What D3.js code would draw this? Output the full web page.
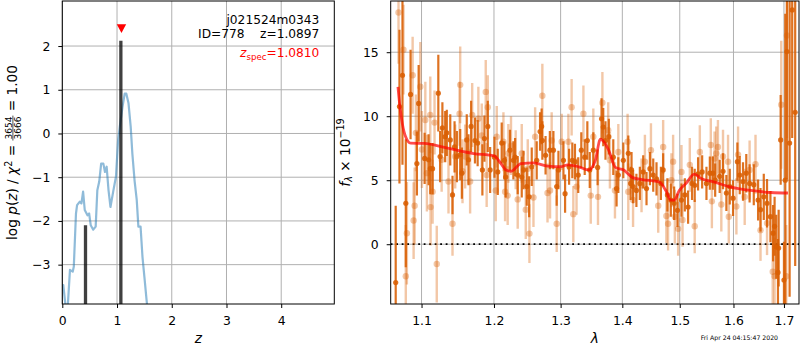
<!DOCTYPE html>
<html>
<head>
<meta charset="utf-8">
<script src="https://cdn.jsdelivr.net/npm/d3@7"></script>
<style>
body { margin: 0; background: #fff; }
svg { display: block; font-family: "DejaVu Sans", sans-serif; }
</style>
</head>
<body>
<svg id="chart" width="800" height="350"></svg>
<script>
// ---- p(z) curve (log p vs z)
const pzZ = [0.00, 0.018, 0.06, 0.10, 0.14, 0.19, 0.21, 0.25, 0.27, 0.32, 0.35, 0.38, 0.41, 0.46, 0.49, 0.52,
    0.565, 0.61, 0.64, 0.675, 0.71, 0.75, 0.78, 0.81, 0.845, 0.88, 0.93, 0.98, 1.02, 1.05, 1.10, 1.14, 1.17,
    1.21, 1.25, 1.28, 1.32, 1.36, 1.39, 1.43, 1.465, 1.50, 1.54, 1.58, 1.62];
const pzLog = [-3.6, -3.47, -3.95, -3.95, -3.12, -3.16, -3.05, -1.83, -1.64, -1.56, -1.6, -1.33, -1.75, -1.87, -1.83, -2.1,
    -2.2, -2.13, -1.3, -1.1, -0.69, -0.69, -0.88, -0.76, -1.3, -1.68, -1.33, -0.99, -0.15, 0.15, 0.61, 0.91, 0.91,
    0.69, 0.15, -0.46, -1.07, -1.52, -2.13, -2.13, -2.82, -3.28, -3.81, -4.3, -4.8];

// peaks drawn as black stems
const peakZ = [0.424, 1.07];
const peakLog = [-2.1, 2.12];

const zSpec = 1.0810;
const zSpecMark = 2.4;

const zTicks = [0, 1, 2, 3, 4];
const logpTicks = [-3, -2, -1, 0, 1, 2];

// ---- spectrum, first set (dark)
const darkWave = [1.0635, 1.0664, 1.0712, 1.0751, 1.0794, 1.0856, 1.0939, 1.0962, 1.1041, 1.1094, 1.1116, 1.1147,
    1.1224, 1.1248, 1.1279, 1.1317, 1.1339, 1.1386, 1.1417, 1.1445, 1.1477, 1.1523, 1.1546, 1.1614, 1.1638, 1.1675,
    1.1729, 1.1767, 1.1834, 1.1863, 1.1911, 1.1945, 1.2007, 1.2055, 1.2112, 1.2151, 1.2170, 1.2233, 1.2283, 1.2308,
    1.2347, 1.2407, 1.2433, 1.2482, 1.2518, 1.2557, 1.2632, 1.2683, 1.2707, 1.2718, 1.2767, 1.2833,
    1.2888, 1.2939, 1.2966, 1.3044, 1.3070, 1.3133, 1.3184, 1.3226, 1.3278, 1.3327, 1.3382, 1.3424, 1.3463, 1.3521,
    1.3591, 1.3655, 1.3683, 1.3720, 1.3775, 1.3849, 1.3904, 1.3933, 1.4017, 1.4101, 1.4156,
    1.4141, 1.4182, 1.4239, 1.4298, 1.4356, 1.4413, 1.4472, 1.4530, 1.4587, 1.4664, 1.4704, 1.4779, 1.4840, 1.4899,
    1.4959, 1.5031, 1.5092, 1.5151, 1.5223, 1.5272, 1.5334, 1.5409, 1.5489,
    1.5552, 1.5608, 1.5652, 1.5737, 1.5800, 1.5864, 1.5929, 1.5992, 1.6075, 1.6121, 1.6184, 1.6248, 1.6313, 1.6395,
    1.6480, 1.6528, 1.6593, 1.6658, 1.6726, 1.6780, 1.6810, 1.6843, 1.6878, 1.6892, 1.6933, 1.7000, 1.7027, 1.7061,
    1.7116, 1.7169, 1.7231];
const darkFlux = [24, -3, 10.75, 13.2, 3.2, 11.7, 6.3, 11.0, 6.7, 6.6, 5.9, 5.9,
    11.8, 6.85, 9.1, 8.4, 8.7, 8.15, 3.85, 7.6, 6.85, 7.0, 5.55, 8.15, 6.6, 9.2,
    8.1, 7.9, 5.8, 8.25, 9.2, 5.8, 6.8, 5.65, 7.9, 6.55, 5.25, 7.35, 6.55, 6.8,
    5.4, 5.25, 5.8, 4.5, 3.7, 6.05, 6.55, 8.8, 9.2, 8.1, 6.95, 7.35,
    7.35, 4.5, 5.8, 6.55, 3.95, 6.05, 6.55, 6.45, 5.4, 7.35, 6.8, 8.1, 5.8, 7.35,
    6.0, 9.8, 9.15, 8.1, 8.4, 6.8, 4.35, 5.4, 6.55, 7.1, 5.8,
    4.75, 4.5, 4.2, 4.75, 5.65, 4.35, 5.9, 5.4, 5.1, 4.75, 5.8, 3.85, 3.45, 3.2,
    2.65, 3.45, 3.85, 2.9, 4.75, 4.6, 5.5, 5.65, 4.75,
    5.55, 5.55, 5.0, 5.3, 5.7, 4.0, 4.5, 3.6, 6.45, 5.4, 4.9, 5.55, 4.75, 4.65,
    3.45, 2.7, 3.7, 3.2, 2.15, 0.86, 1.4, -0.2, -2.2, -0.3, 8.15, -2.8, 5.0, 15.05,
    7.9, 18.3, 10.3];
const darkErr = [5, 6, 6, 7, 5, 3.5, 2.5, 3, 2, 2, 2, 2,
    3, 2, 2, 2, 1.8, 2, 1.5, 2, 2, 2, 2, 2, 2, 2,
    1.8, 1.8, 2, 1.8, 2, 1.8, 1.6, 1.8, 1.6, 1.5, 1.6, 1.6, 1.5, 1.5,
    1.5, 1.6, 1.5, 1.5, 1.6, 1.5, 1.5, 1.5, 1.4, 1.5, 1.5, 1.5,
    1.5, 1.5, 1.5, 1.5, 1.5, 1.4, 1.4, 1.4, 1.4, 1.4, 1.4, 1.5, 1.4, 1.4,
    1.4, 1.6, 1.5, 1.5, 1.4, 1.4, 1.4, 1.4, 1.4, 1.4, 1.4,
    1.3, 1.3, 1.3, 1.3, 1.3, 1.3, 1.3, 1.3, 1.3, 1.3, 1.3, 1.3, 1.3, 1.3,
    1.3, 1.3, 1.3, 1.3, 1.3, 1.3, 1.3, 1.3, 1.3,
    1.3, 1.3, 1.3, 1.3, 1.4, 1.4, 1.4, 1.4, 1.5, 1.5, 1.5, 1.5, 1.5, 1.6,
    1.6, 1.7, 1.8, 1.9, 2.0, 2.2, 2.3, 2.5, 2.6, 3, 3.5, 3, 13, 10,
    12, 10, 12];

// ---- spectrum, second set (light)
const lightWave = [1.0700, 1.0764, 1.0794, 1.0808, 1.0883, 1.0896, 1.0909, 1.0926, 1.0984, 1.1005, 1.1050, 1.1071,
    1.1116, 1.1120, 1.1147, 1.1173, 1.1203, 1.1269, 1.1362, 1.1417, 1.1454, 1.1514, 1.1523, 1.1555, 1.1592, 1.1661,
    1.1690, 1.1777, 1.1825, 1.1882, 1.1895, 1.1911, 1.2026, 1.2040, 1.2137, 1.2161, 1.2199, 1.2209, 1.2248, 1.2317,
    1.2347, 1.2407, 1.2467, 1.2497, 1.2522, 1.2583, 1.2608, 1.2718, 1.2797, 1.2836, 1.2861, 1.2939, 1.3017, 1.3122,
    1.3173, 1.3200, 1.3251, 1.3361, 1.3479, 1.3521, 1.3597, 1.3669, 1.3765, 1.3793, 1.3877, 1.3933, 1.4089, 1.4101,
    1.4182, 1.4327, 1.4385, 1.4490, 1.4617, 1.4704, 1.4761, 1.4791, 1.4851, 1.4881, 1.4912, 1.4971, 1.5031, 1.5050,
    1.5182, 1.5272, 1.5366, 1.5570, 1.5590, 1.5641, 1.5672, 1.5704, 1.5768, 1.5800, 1.5896, 1.5910, 1.6056, 1.6088,
    1.6217, 1.6313, 1.6429, 1.6528, 1.6658, 1.6772, 1.6810, 1.6945, 1.7047, 1.7061];
const lightFlux = [18.1, 15.2, -2.5, 0.86, 13.2, 1.85, 3.0, 8.7, 12.3, 7.4, 9.7, 5.55,
    10.1, 2.9, 4.1, 9.5, -1.55, 6.6, 4.9, 1.6, 6.85, 10.2, 12.45, 5.7, 6.85, 4.9,
    10.1, 9.8, 8.5, 11.9, 5.4, 10.7, 4.2, 8.4, 8.0, 4.1, 3.8, 7.1, 7.7, 6.6,
    3.5, 7.1, 2.7, 5.9, 0.83, 3.65, 8.4, 11.6, 4.0, 4.2, 8.1, 1.6, 8.0, 8.0,
    10.7, 2.35, 4.5, 10.2, 3.8, 8.4, 3.7, 11.05, 8.9, 6.55, 4.2, 7.2, 8.0, 4.1,
    3.45, 4.6, 6.45, 7.35, 3.0, 7.6, 2.2, 1.6, 5.0, 6.45, 2.15, 1.2, 5.65, 1.9,
    6.2, 1.4, 7.2, 7.75, 3.35, 6.7, 7.1, 7.6, 3.1, 6.85, 6.45, 2.15, 2.95, 7.0,
    3.7, 5.8, 6.25, 1.1, 1.65, -2.15, -2.5, 10.9, -2.5, 16.3];
const lightErr = [4, 3.5, 4, 4, 3, 3, 3, 3, 3.5, 3, 3, 3,
    3, 3, 2.5, 2.5, 3, 2.5, 2.5, 2.5, 2.5, 2.5, 3, 2.5, 2.5, 2.5,
    2.5, 2.5, 2.5, 2.5, 2.5, 2.5, 2.4, 2.4, 2.3, 2.3, 2.3, 2.3, 2.3, 2.3,
    2.3, 2.3, 2.3, 2.3, 2.3, 2.3, 2.3, 2.5, 2.3, 2.2, 2.2, 2.2, 2.2, 2.2,
    2.2, 2.2, 2.2, 2.2, 2.2, 2.2, 2.2, 2.4, 2.2, 2.2, 2.2, 2.2, 2.2, 2.2,
    2.1, 2.1, 2.1, 2.1, 2.1, 2.1, 2.1, 2.1, 2.1, 2.1, 2.1, 2.1, 2.1, 2.1,
    2.1, 2.1, 2.1, 2.1, 2.1, 2.1, 2.1, 2.1, 2.1, 2.1, 2.1, 2.1, 2.2, 2.2,
    2.2, 2.3, 2.3, 2.4, 2.5, 3, 3, 5, 4, 8];

// ---- model
const modelWave = [1.0693, 1.0719, 1.0750, 1.0792, 1.0857, 1.1034, 1.1350, 1.1712, 1.2000, 1.2101, 1.2175, 1.2248,
    1.2396, 1.2590, 1.2798, 1.3003, 1.3113, 1.3285, 1.3446, 1.3554, 1.3636, 1.3674, 1.3772, 1.3884, 1.4024, 1.4178,
    1.4339, 1.4632, 1.4751, 1.4841, 1.4901, 1.4991, 1.5112, 1.5265, 1.5390, 1.5621, 1.5930, 1.6329, 1.6741, 1.7083];
const modelFlux = [12.3, 10.7, 9.4, 8.4, 7.9, 7.87, 7.5, 7.08, 6.9, 6.3, 5.8, 5.7,
    6.3, 6.35, 6.1, 6.05, 6.2, 6.05, 5.8, 6.56, 8.2, 8.1, 7.35, 6.0, 5.8, 5.2,
    5.05, 4.87, 4.2, 3.44, 3.44, 4.2, 4.74, 5.47, 5.13, 4.87, 4.48, 4.2, 4.04, 4.0];

const waveTicks = [1.1, 1.2, 1.3, 1.4, 1.5, 1.6, 1.7];
const fluxTicks = [0, 5, 10, 15];

const objName = "j021524m0343";
const objId = 778;
const zBest = 1.0897;
const chiNum = 3654, chiDen = 3666, chiRed = "1.00";
const stamp = "Fri Apr 24 04:15:47 2020";

// ------------------------------------------------------------------
const svg = d3.select("#chart");
const tickFont = 12.4;
const labelFont = 13.7;
const gridColor = "#b0b0b0";
const orange = "#d95f02";

const pzBox = {left: 62.3, right: 334.3, top: 1, bottom: 304};
const spBox = {left: 390.7, right: 799, top: 1, bottom: 304};

const x1 = d3.scaleLinear().domain([0, 4.97]).range([pzBox.left, pzBox.right]);
const y1 = d3.scaleLinear().domain([-3.9, 3.03]).range([pzBox.bottom, pzBox.top]);
const x2 = d3.scaleLog().domain([1.06, 1.731]).range([spBox.left, spBox.right]);
const y2 = d3.scaleLinear().domain([-4.67, 19.0]).range([spBox.bottom, spBox.top]);

function addClip(id, box) {
    svg.append("clipPath").attr("id", id).append("rect")
        .attr("x", box.left).attr("y", box.top)
        .attr("width", box.right - box.left).attr("height", box.bottom - box.top);
}
addClip("clipPz", pzBox);
addClip("clipSp", spBox);

function drawGrid(box, xs, ys, xScale, yScale) {
    const g = svg.append("g").attr("stroke", gridColor).attr("stroke-width", 1);
    g.selectAll(".gx").data(xs).enter().append("line")
        .attr("x1", d => xScale(d)).attr("x2", d => xScale(d))
        .attr("y1", box.top).attr("y2", box.bottom);
    g.selectAll(".gy").data(ys).enter().append("line")
        .attr("x1", box.left).attr("x2", box.right)
        .attr("y1", d => yScale(d)).attr("y2", d => yScale(d));
}

function drawAxes(box, xScale, yScale, xs, ys, xFmt, yFmt) {
    const gx = svg.append("g").attr("transform", `translate(0,${box.bottom})`)
        .call(d3.axisBottom(xScale).tickValues(xs).tickFormat(xFmt).tickSize(4).tickPadding(8.2));
    const gy = svg.append("g").attr("transform", `translate(${box.left},0)`)
        .call(d3.axisLeft(yScale).tickValues(ys).tickFormat(yFmt).tickSize(4).tickPadding(8));
    [gx, gy].forEach(g => {
        g.select(".domain").remove();
        g.attr("font-family", null).attr("font-size", null);
        g.selectAll("text").style("font-size", tickFont + "px").attr("fill", "#000");
        g.selectAll("line").attr("stroke", "#000");
    });
    svg.append("rect")
        .attr("x", box.left).attr("y", box.top)
        .attr("width", box.right - box.left).attr("height", box.bottom - box.top)
        .attr("fill", "none").attr("stroke", "#000").attr("stroke-width", 1);
}

// ---------------- left panel: p(z)
drawGrid(pzBox, zTicks, logpTicks, x1, y1);

const pzLayer = svg.append("g").attr("clip-path", "url(#clipPz)");
pzLayer.append("path")
    .datum(pzZ.map((z, i) => [z, pzLog[i]]))
    .attr("d", d3.line().x(d => x1(d[0])).y(d => y1(d[1])))
    .attr("fill", "none")
    .attr("stroke", "#1f77b4")
    .attr("stroke-opacity", 0.5)
    .attr("stroke-width", 2.2)
    .attr("stroke-linejoin", "round");

pzLayer.selectAll(".peak").data(peakZ).enter().append("line")
    .attr("x1", d => x1(d)).attr("x2", d => x1(d))
    .attr("y1", y1(-3.9))
    .attr("y2", (d, i) => y1(peakLog[i]))
    .attr("stroke", "#000").attr("stroke-opacity", 0.75).attr("stroke-width", 3.3);

svg.append("path")
    .attr("transform", `translate(${x1(zSpec)},${y1(zSpecMark)})`)
    .attr("d", "M-4.7,-4.2L4.7,-4.2L0,4.5Z")
    .attr("fill", "red");

drawAxes(pzBox, x1, y1, zTicks, logpTicks, d3.format("d"), d3.format("d"));

// annotations
const annX = 319.3;
svg.append("text").attr("x", annX).attr("y", 24).attr("text-anchor", "end")
    .style("font-size", "12.2px").text(objName);
svg.append("text").attr("x", annX).attr("y", 37.7).attr("text-anchor", "end")
    .style("font-size", "12.2px").style("white-space", "pre")
    .text(`ID=${objId}    z=${zBest.toFixed(4)}`);
const zs = svg.append("text").attr("x", annX).attr("y", 57).attr("text-anchor", "end")
    .style("font-size", "12.2px").attr("fill", "red");
zs.append("tspan").style("font-style", "italic").text("z");
zs.append("tspan").attr("dy", 2.5).style("font-size", "8.6px").text("spec");
zs.append("tspan").attr("dy", -2.5).text(`=${zSpec.toFixed(4)}`);

// x label
svg.append("text").attr("x", (pzBox.left + pzBox.right) / 2).attr("y", 343.3)
    .attr("text-anchor", "middle").style("font-size", labelFont + "px").style("font-style", "italic")
    .text("z");

// y label: log p(z) / chi2 = num/den = red
const ylab = svg.append("g").attr("transform", `translate(17.3,${(pzBox.top + pzBox.bottom) / 2}) rotate(-90)`)
    .style("font-size", labelFont + "px");
const partA = ylab.append("text").style("white-space", "pre");
partA.append("tspan").text("log ");
partA.append("tspan").style("font-style", "italic").text("p");
partA.append("tspan").text("(");
partA.append("tspan").style("font-style", "italic").text("z");
partA.append("tspan").text(") / ");
partA.append("tspan").style("font-style", "italic").text("χ");
partA.append("tspan").attr("dy", -5.5).style("font-size", "9.6px").text("2");
partA.append("tspan").attr("dy", 5.5).text(" = ");
const wA = partA.node().getComputedTextLength();
const numT = ylab.append("text").attr("y", -5.4).attr("text-anchor", "middle").style("font-size", "9px").text(chiNum);
const denT = ylab.append("text").attr("y", 3.4).attr("text-anchor", "middle").style("font-size", "9px").text(chiDen);
const wF = Math.max(numT.node().getComputedTextLength(), denT.node().getComputedTextLength()) + 2;
const partB = ylab.append("text").style("white-space", "pre").text(` = ${chiRed}`);
const wB = partB.node().getComputedTextLength();
const lx0 = -(wA + wF + wB) / 2;
partA.attr("x", lx0);
numT.attr("x", lx0 + wA + wF / 2);
denT.attr("x", lx0 + wA + wF / 2);
ylab.append("line").attr("x1", lx0 + wA).attr("x2", lx0 + wA + wF)
    .attr("y1", -4.4).attr("y2", -4.4).attr("stroke", "#000").attr("stroke-width", 0.7);
partB.attr("x", lx0 + wA + wF);

// ---------------- right panel: spectrum
drawGrid(spBox, waveTicks, fluxTicks, x2, y2);

const spLayer = svg.append("g").attr("clip-path", "url(#clipSp)");

spLayer.append("line")
    .attr("x1", spBox.left).attr("x2", spBox.right)
    .attr("y1", y2(0)).attr("y2", y2(0))
    .attr("stroke", "#000").attr("stroke-width", 1.8).attr("stroke-dasharray", "1.8,3.7");

function drawSet(waves, flux, errs, opacity, radius, barWidth) {
    const g = spLayer.append("g").attr("fill", orange).attr("stroke", orange)
        .attr("fill-opacity", opacity).attr("stroke-opacity", opacity);
    const pts = waves.map((w, i) => ({w, f: flux[i], e: errs[i]}));
    g.selectAll(".eb").data(pts).enter().append("line")
        .attr("x1", d => x2(d.w)).attr("x2", d => x2(d.w))
        .attr("y1", d => y2(d.f - d.e)).attr("y2", d => y2(d.f + d.e))
        .attr("stroke-width", barWidth);
    g.selectAll(".pt").data(pts).enter().append("circle")
        .attr("cx", d => x2(d.w)).attr("cy", d => y2(d.f))
        .attr("r", radius).attr("stroke", "none");
}
drawSet(lightWave, lightFlux, lightErr, 0.35, 3.2, 2.4);
drawSet(darkWave, darkFlux, darkErr, 0.88, 2.6, 2.2);

spLayer.append("path")
    .datum(modelWave.map((w, i) => [w, modelFlux[i]]))
    .attr("d", d3.line().curve(d3.curveMonotoneX).x(d => x2(d[0])).y(d => y2(d[1])))
    .attr("fill", "none").attr("stroke", "red").attr("stroke-opacity", 0.7)
    .attr("stroke-width", 2.8).attr("stroke-linejoin", "round");

drawAxes(spBox, x2, y2, waveTicks, fluxTicks, d3.format(".1f"), d3.format("d"));

svg.append("text").attr("x", (spBox.left + spBox.right) / 2).attr("y", 343.3)
    .attr("text-anchor", "middle").style("font-size", labelFont + "px").style("font-style", "italic")
    .text("λ");

const flab = svg.append("text")
    .attr("transform", `translate(349.5,${(spBox.top + spBox.bottom) / 2}) rotate(-90)`)
    .attr("text-anchor", "middle").style("font-size", labelFont + "px").style("white-space", "pre");
flab.append("tspan").style("font-style", "italic").text("f");
flab.append("tspan").attr("dy", 2.8).style("font-size", "9.6px").style("font-style", "italic").text("λ");
flab.append("tspan").attr("dy", -2.8).text(" × 10");
flab.append("tspan").attr("dy", -5.5).style("font-size", "9.6px").text("−19");

// timestamp
svg.append("text").attr("x", 700.7).attr("y", 339.5).style("font-size", "6.2px").text(stamp);
</script>
</body>
</html>
